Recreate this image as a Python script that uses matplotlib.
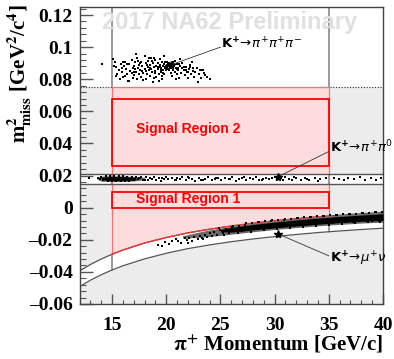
import numpy as np
import matplotlib
matplotlib.use("Agg")
import matplotlib.pyplot as plt
from matplotlib.patches import Rectangle
from matplotlib.ticker import MultipleLocator, FuncFormatter

# ---------------- data ----------------
# boundary curves of the K->mu nu band (m2_miss vs momentum)
curve_p = [12, 13, 14, 15, 16, 18, 20, 22, 24, 26, 28, 30, 32, 34, 35, 36, 38, 40]
curve_hi = [-0.0394, -0.0354, -0.0320, -0.0290, -0.0264, -0.0220, -0.0186, -0.0157,
            -0.0134, -0.0114, -0.0097, -0.0082, -0.0069, -0.0057, -0.0052, -0.0047,
            -0.0038, -0.0030]
curve_lo = [-0.0492, -0.0452, -0.0418, -0.0388, -0.0362, -0.0319, -0.0284, -0.0255,
            -0.0232, -0.0212, -0.0195, -0.0180, -0.0167, -0.0155, -0.0150, -0.0145,
            -0.0136, -0.0128]

p_range = [12, 40]
m2_range = [-0.06, 0.125]
signal_p = [15, 35]
sr1 = [0.0, 0.010]
sr2 = [0.026, 0.068]
pipi0_band = [0.015, 0.021]
pi3_cut = 0.075

# K -> pi pi pi events
pi3_p = [14.1, 15.1, 15.3, 15.4, 15.6, 15.5, 15.8, 15.9, 16.0, 16.1, 16.2, 16.3, 16.4, 16.5,
         16.6, 16.7, 16.8, 16.9, 17.0, 17.0, 17.1, 17.2, 17.3, 17.3, 17.4, 17.5, 17.5, 17.6,
         17.7, 17.7, 17.8, 17.9, 18.0, 18.0, 18.1, 18.1, 18.2, 18.3, 18.3, 18.4, 18.5, 18.5,
         18.6, 18.6, 18.7, 18.8, 18.8, 18.9, 19.0, 19.0, 19.1, 19.1, 19.2, 19.2, 19.3, 19.4,
         19.4, 19.5, 19.5, 19.6, 19.6, 19.7, 19.7, 19.8, 19.8, 19.9, 19.9, 20.0, 20.0, 20.1,
         20.1, 20.2, 20.2, 20.3, 20.3, 20.4, 20.4, 20.5, 20.5, 20.6, 20.6, 20.7, 20.8, 20.8,
         20.9, 21.0, 21.0, 21.1, 21.2, 21.3, 21.4, 21.5, 21.6, 21.7, 21.8, 21.9, 22.0, 22.1,
         22.2, 22.3, 22.5, 22.6, 22.8, 23.0, 23.2, 23.5, 23.8, 24.0, 17.9, 19.3, 20.9, 16.2,
         18.4, 19.8, 21.3, 22.4, 20.2, 20.3, 20.4, 20.5, 20.35, 20.45, 20.25, 19.9, 17.2, 16.6,
         18.9, 22.9, 23.3, 15.7, 21.1,
         15.2, 15.9, 16.4, 16.8, 17.1, 17.6, 17.8, 18.2, 18.5, 18.7, 19.0, 19.2, 19.5, 19.7,
         20.0, 20.1, 20.6, 20.7, 21.0, 21.2, 21.5, 21.8, 22.2, 22.7, 23.1, 23.6, 16.0, 16.9,
         17.4, 18.1, 18.9, 19.6, 20.3, 21.6, 22.0, 22.5, 23.4, 15.4, 17.0, 19.4]
pi3_m2 = [0.0895, 0.0925, 0.0905, 0.0875, 0.0860, 0.0835, 0.0895, 0.0845, 0.0815, 0.0880,
          0.0905, 0.0865, 0.0835, 0.0790, 0.0895, 0.0850, 0.0920, 0.0870, 0.0825, 0.0880,
          0.0905, 0.0845, 0.0800, 0.0930, 0.0870, 0.0890, 0.0835, 0.0855, 0.0910, 0.0815,
          0.0880, 0.0840, 0.0865, 0.0945, 0.0900, 0.0800, 0.0830, 0.0875, 0.0915, 0.0855,
          0.0890, 0.0820, 0.0930, 0.0865, 0.0845, 0.0900, 0.0785, 0.0875, 0.0920, 0.0850,
          0.0885, 0.0815, 0.0900, 0.0865, 0.0835, 0.0890, 0.0925, 0.0870, 0.0845, 0.0905,
          0.0800, 0.0880, 0.0860, 0.0895, 0.0830, 0.0870, 0.0910, 0.0885, 0.0855, 0.0890,
          0.0875, 0.0895, 0.0865, 0.0885, 0.0900, 0.0870, 0.0840, 0.0890, 0.0820, 0.0905,
          0.0860, 0.0880, 0.0845, 0.0915, 0.0870, 0.0830, 0.0895, 0.0855, 0.0810, 0.0880,
          0.0840, 0.0900, 0.0860, 0.0825, 0.0875, 0.0845, 0.0805, 0.0865, 0.0890, 0.0835,
          0.0850, 0.0815, 0.0870, 0.0830, 0.0810, 0.0840, 0.0815, 0.0800, 0.0795, 0.0790,
          0.0800, 0.0820, 0.0935, 0.0945, 0.0925, 0.0905, 0.0888, 0.0893, 0.0885, 0.0890,
          0.0880, 0.0895, 0.0882, 0.0878, 0.0960, 0.0790, 0.0810, 0.0785, 0.0860, 0.0800,
          0.0870,
          0.0880, 0.0872, 0.0898, 0.0838, 0.0862, 0.0902, 0.0850, 0.0888, 0.0872, 0.0912,
          0.0838, 0.0878, 0.0858, 0.0840, 0.0872, 0.0905, 0.0875, 0.0895, 0.0862, 0.0892,
          0.0870, 0.0858, 0.0878, 0.0845, 0.0860, 0.0828, 0.0905, 0.0810, 0.0915, 0.0852,
          0.0930, 0.0822, 0.0858, 0.0878, 0.0848, 0.0872, 0.0855, 0.0820, 0.0845, 0.0875]

# K -> pi pi0 events (dense core, spread of the core, individual events)
pp0_core_p = [14.0, 14.5, 15.5, 16.5, 17.2]
pp0_core_hi = [0.0189, 0.0193, 0.0194, 0.0192, 0.0188]
pp0_core_lo = [0.0176, 0.0170, 0.0168, 0.0169, 0.0174]
pp0_spread_p = [13.6, 14.0, 15.0, 16.0, 17.0, 18.0]
pp0_spread_hi = [0.0190, 0.0197, 0.0199, 0.0198, 0.0195, 0.0189]
pp0_spread_lo = [0.0178, 0.0165, 0.0162, 0.0163, 0.0166, 0.0174]
pp0_p = [12.9, 13.7, 13.9, 14.0, 14.2, 14.4, 14.6, 14.8, 15.0, 15.2, 15.4, 15.6, 15.8, 16.0,
         16.2, 16.4, 16.6, 16.8, 17.0, 17.2, 17.4, 17.6, 17.9, 18.1, 18.3, 18.5, 18.7, 18.9,
         19.1, 19.3, 19.5, 19.8, 20.0, 20.2, 20.5, 20.8, 21.0, 21.3, 21.5, 21.8, 22.1, 22.4,
         22.7, 23.0, 23.2, 23.6, 23.9, 24.2, 24.5, 24.8, 25.1, 25.4, 25.8, 26.1, 26.4, 26.7,
         27.0, 27.4, 27.7, 28.0, 28.3, 28.6, 28.9, 29.2, 29.5, 29.8, 30.0, 30.2, 30.4, 30.6,
         30.8, 31.0, 31.3, 31.6, 32.0, 32.4, 32.8, 33.2, 33.7, 34.2, 34.7, 35.5, 35.9, 36.4,
         36.8, 37.3, 37.9, 38.3, 38.9, 39.4, 39.8, 30.3, 30.25, 30.35, 17.7, 17.5, 18.0,
         19.6, 20.9, 22.0, 23.4, 24.6, 25.9, 27.2, 28.8, 31.8, 33.0, 34.0]
pp0_m2 = [0.0185, 0.0183, 0.0176, 0.0190, 0.0172, 0.0195, 0.0166, 0.0197, 0.0165, 0.0196,
          0.0164, 0.0198, 0.0166, 0.0195, 0.0167, 0.0194, 0.0169, 0.0193, 0.0171, 0.0190,
          0.0176, 0.0182, 0.0175, 0.0188, 0.0170, 0.0185, 0.0178, 0.0192, 0.0174, 0.0186,
          0.0168, 0.0180, 0.0190, 0.0176, 0.0184, 0.0170, 0.0187, 0.0178, 0.0193, 0.0172,
          0.0183, 0.0176, 0.0166, 0.0186, 0.0174, 0.0181, 0.0190, 0.0170, 0.0179, 0.0187,
          0.0173, 0.0182, 0.0176, 0.0190, 0.0169, 0.0180, 0.0186, 0.0174, 0.0183, 0.0178,
          0.0192, 0.0172, 0.0181, 0.0187, 0.0176, 0.0184, 0.0190, 0.0179, 0.0193, 0.0185,
          0.0175, 0.0188, 0.0180, 0.0170, 0.0182, 0.0175, 0.0186, 0.0171, 0.0183, 0.0177,
          0.0185, 0.0186, 0.0179, 0.0173, 0.0184, 0.0177, 0.0191, 0.0175, 0.0186, 0.0172,
          0.0183, 0.0188, 0.0185, 0.0191, 0.0190, 0.0184, 0.0173,
          0.0186, 0.0175, 0.0189, 0.0171, 0.0184, 0.0178, 0.0191, 0.0170, 0.0189, 0.0176,
          0.0168]

# K -> mu nu events (dense core, spread of the core, individual events)
mn_core_p = [25.0, 26.0, 28.0, 30.0, 32.0, 34.0, 36.0, 38.0, 40.0]
mn_core_hi = [-0.0136, -0.0123, -0.0105, -0.0090, -0.0077, -0.0065, -0.0055, -0.0046, -0.0038]
mn_core_lo = [-0.0150, -0.0152, -0.0139, -0.0126, -0.0114, -0.0103, -0.0093, -0.0085, -0.0079]
mn_spread_p = [21.5, 23.0, 24.0, 26.0, 28.0, 30.0, 32.0, 34.0, 36.0, 38.0, 40.0]
mn_spread_hi = [-0.0175, -0.0152, -0.0138, -0.0115, -0.0097, -0.0082, -0.0068, -0.0056, -0.0046, -0.0037, -0.0029]
mn_spread_lo = [-0.0190, -0.0185, -0.0180, -0.0165, -0.0150, -0.0136, -0.0124, -0.0113, -0.0104, -0.0096, -0.0090]
mn_p = [19.2, 19.6, 19.9, 20.3, 20.5, 20.9, 21.1, 21.4, 21.7, 21.9, 22.1, 22.4, 22.6, 22.9,
        23.1, 23.3, 23.6, 23.8, 24.0, 24.2, 24.4, 24.7, 25.0, 25.2, 25.5, 25.8, 26.1, 26.4,
        26.7, 27.0, 27.3, 27.6, 27.9, 28.2, 28.5, 28.8, 29.1, 29.4, 29.7, 30.0, 30.3, 30.6,
        30.9, 31.2, 31.5, 31.8, 32.1, 32.4, 32.7, 33.0, 33.3, 33.6, 33.9, 34.2, 34.5, 34.8,
        35.1, 35.4, 35.7, 36.0, 36.3, 36.6, 36.9, 37.2, 37.5, 37.8, 38.1, 38.4, 38.7, 39.0,
        39.3, 39.6, 39.9, 25.3, 26.6, 27.8, 29.0, 30.2, 31.4, 32.6, 33.8, 35.0, 36.2, 37.4,
        38.6, 39.7, 24.9, 26.2, 27.4, 28.6, 29.8, 31.0, 32.2, 33.4, 34.6, 35.8, 37.0, 38.2,
        39.4, 30.4, 30.3, 22.0, 23.4]
mn_m2 = [-0.0231, -0.0236, -0.0214, -0.0226, -0.0206, -0.0196, -0.0210, -0.0218, -0.0186,
         -0.0200, -0.0190, -0.0206, -0.0182, -0.0195, -0.0174, -0.0188, -0.0170, -0.0182,
         -0.0160, -0.0176, -0.0152, -0.0168, -0.0140, -0.0160, -0.0130, -0.0155, -0.0118,
         -0.0142, -0.0112, -0.0146, -0.0105, -0.0138, -0.0098, -0.0132, -0.0092, -0.0128,
         -0.0086, -0.0125, -0.0083, -0.0120, -0.0079, -0.0117, -0.0074, -0.0113, -0.0069,
         -0.0110, -0.0064, -0.0106, -0.0061, -0.0103, -0.0057, -0.0100, -0.0054, -0.0098,
         -0.0050, -0.0096, -0.0047, -0.0093, -0.0045, -0.0091, -0.0042, -0.0090, -0.0040,
         -0.0088, -0.0037, -0.0086, -0.0034, -0.0085, -0.0032, -0.0084, -0.0029, -0.0083,
         -0.0027, -0.0168, -0.0158, -0.0150, -0.0141, -0.0133, -0.0126, -0.0120, -0.0113,
         -0.0108, -0.0101, -0.0096, -0.0092, -0.0089, -0.0126, -0.0112, -0.0098, -0.0087,
         -0.0078, -0.0070, -0.0062, -0.0055, -0.0049, -0.0043, -0.0038, -0.0033, -0.0029,
         -0.0165, -0.0162, -0.0218, -0.0196]

# annotation anchors
ann_pt_p = [20.4, 30.3, 30.3]
ann_pt_m2 = [0.0889, 0.0192, -0.0163]
ann_txt_p = [25.0, 35.0, 35.0]
ann_txt_m2 = [0.1000, 0.0350, -0.0300]
ann_txt_y = [0.1020, 0.0375, -0.0318]
ann_labels = [r'$\mathbf{K^{+}}\!\rightarrow\!\pi^{+}\pi^{+}\pi^{-}$',
              r'$\mathbf{K^{+}}\!\rightarrow\!\pi^{+}\pi^{0}$',
              r'$\mathbf{K^{+}}\!\rightarrow\!\mu^{+}\nu$']

# ---------------- figure ----------------
W, H = 394, 359
fig = plt.figure(figsize=(W / 100, H / 100), dpi=100)
ax = fig.add_axes([79.5 / W, 1 - 304 / H, (383 - 79.5) / W, (304 - 7) / H])
ax.set_xlim(*p_range)
ax.set_ylim(*m2_range)

grey_fill = '#ececec'
red_fill = '#fcdcdc'
dark = '#555555'

cp = np.array(curve_p, float)
chi = np.array(curve_hi)
clo = np.array(curve_lo)
inside = (cp >= signal_p[0]) & (cp <= signal_p[1])

for xv in signal_p:
    ax.axvline(xv, color='#888888', lw=1.2, zorder=0.2)

ax.fill_between(p_range, [pipi0_band[1]] * 2, [pi3_cut] * 2, color=grey_fill, lw=0, zorder=0.5)
ax.fill_between(cp, chi, pipi0_band[0], color=grey_fill, lw=0, zorder=0.5)
ax.fill_between(cp, m2_range[0], clo, color=grey_fill, lw=0, zorder=0.5)

ax.fill_between(signal_p, [pipi0_band[1]] * 2, [pi3_cut] * 2, color=red_fill, lw=0, zorder=0.6)
ax.fill_between(cp[inside], chi[inside], pipi0_band[0], color=red_fill, lw=0, zorder=0.6)
light_red = '#ff7070'
ax.plot(signal_p, [pi3_cut] * 2, color=light_red, lw=0.9, zorder=1.2)
for xv, yb in zip(signal_p, [chi[inside][0], chi[inside][-1]]):
    ax.plot([xv, xv], [yb, pi3_cut], color=light_red, lw=0.9, zorder=0.7)

ax.axhline(pi3_cut, color='#333333', lw=0.8, ls=(0, (1, 1.5)), zorder=1)
for yv in pipi0_band:
    ax.axhline(yv, color=dark, lw=1.0, zorder=1)

ax.plot(cp, chi, color=dark, lw=0.9, zorder=1)
ax.plot(cp, clo, color=dark, lw=0.9, zorder=1)
ax.plot(cp[inside], chi[inside], color='#ff3030', lw=0.9, zorder=1.1)

for lo, hi in (sr1, sr2):
    ax.add_patch(Rectangle((signal_p[0], lo), signal_p[1] - signal_p[0], hi - lo,
                           fill=False, edgecolor='#ff0000', lw=1.3, zorder=2))

# event densities: speckled spread (mid grey) + solid core
for sp, slo, shi in ((pp0_spread_p, pp0_spread_lo, pp0_spread_hi),
                     (mn_spread_p, mn_spread_lo, mn_spread_hi)):
    ax.fill_between(sp, slo, shi, color='#6a6a6a', lw=0, zorder=2.5)
ax.fill_between(pp0_core_p, pp0_core_lo, pp0_core_hi, color='black', lw=0, zorder=3)
ax.fill_between(mn_core_p, mn_core_lo, mn_core_hi, color='black', lw=0, zorder=3)
kw = dict(marker='s', s=3.5, c='black', linewidths=0, zorder=3)
ax.scatter(pi3_p, pi3_m2, **kw)
ax.scatter(pp0_p, pp0_m2, **kw)
ax.scatter(mn_p, mn_m2, **kw)

for pp, pm, tp, tm, ty, lab in zip(ann_pt_p, ann_pt_m2, ann_txt_p, ann_txt_m2, ann_txt_y, ann_labels):
    ax.plot([pp, tp], [pm, tm], color='#333333', lw=0.6, zorder=4)
    ax.plot([pp], [pm], marker='*', ms=6, color='black', zorder=4)
    ax.text(tp + 0.1, ty, lab, fontsize=9.5, ha='left', va='center', zorder=5,
            math_fontfamily='dejavusans')

ax.text(22.0, 0.0487, 'Signal Region 2', color='#ff0000', fontsize=10, fontweight='bold',
        family='Liberation Sans', ha='center', va='center', zorder=5)
ax.text(22.0, 0.0055, 'Signal Region 1', color='#ff0000', fontsize=10, fontweight='bold',
        family='Liberation Sans', ha='center', va='center', zorder=5)
ax.text(25.8, 0.1155, '2017 NA62 Preliminary', color='#e0e0e0', fontsize=17,
        fontweight='bold', family='Liberation Sans', ha='center', va='center', zorder=0.3)

for s in ax.spines.values():
    s.set_color('#444444')
    s.set_linewidth(1.0)
ax.xaxis.set_major_locator(MultipleLocator(5))
ax.xaxis.set_minor_locator(MultipleLocator(1))
ax.yaxis.set_major_locator(MultipleLocator(0.02))
ax.yaxis.set_minor_locator(MultipleLocator(0.004))
ax.tick_params(axis='both', which='both', direction='in', top=False, right=False,
               color='#555555')
ax.tick_params(axis='y', which='major', length=9, width=1.0, pad=5)
ax.tick_params(axis='y', which='minor', length=4.5, width=0.8)
ax.tick_params(axis='x', which='major', length=7, width=1.0, pad=9)
ax.tick_params(axis='x', which='minor', length=3, width=0.8)

def yfmt(v, pos):
    if abs(v) < 1e-9:
        return '0'
    s = ('%.2f' % v).rstrip('0')
    return s.replace('-', '\u2013')

ax.yaxis.set_major_formatter(FuncFormatter(yfmt))
for lab in ax.get_xticklabels() + ax.get_yticklabels():
    lab.set_family('Liberation Serif')
    lab.set_fontweight('bold')
    lab.set_fontsize(14)

fig.text(383 / W, 1 - 344 / H, r'$\mathbf{\pi^{+}}$ Momentum [GeV/c]', ha='right', va='center',
         family='Liberation Serif', fontweight='bold', fontsize=15, math_fontfamily='stix')
fig.text(20 / W, 1 - 4 / H, r'$\mathbf{m^{2}_{miss}}$ [GeV$^{\mathbf{2}}$/c$^{\mathbf{4}}$]',
         rotation=90, ha='center', va='top', family='Liberation Serif', fontweight='bold',
         fontsize=15, math_fontfamily='stix')

fig.savefig('out.png', dpi=100)
